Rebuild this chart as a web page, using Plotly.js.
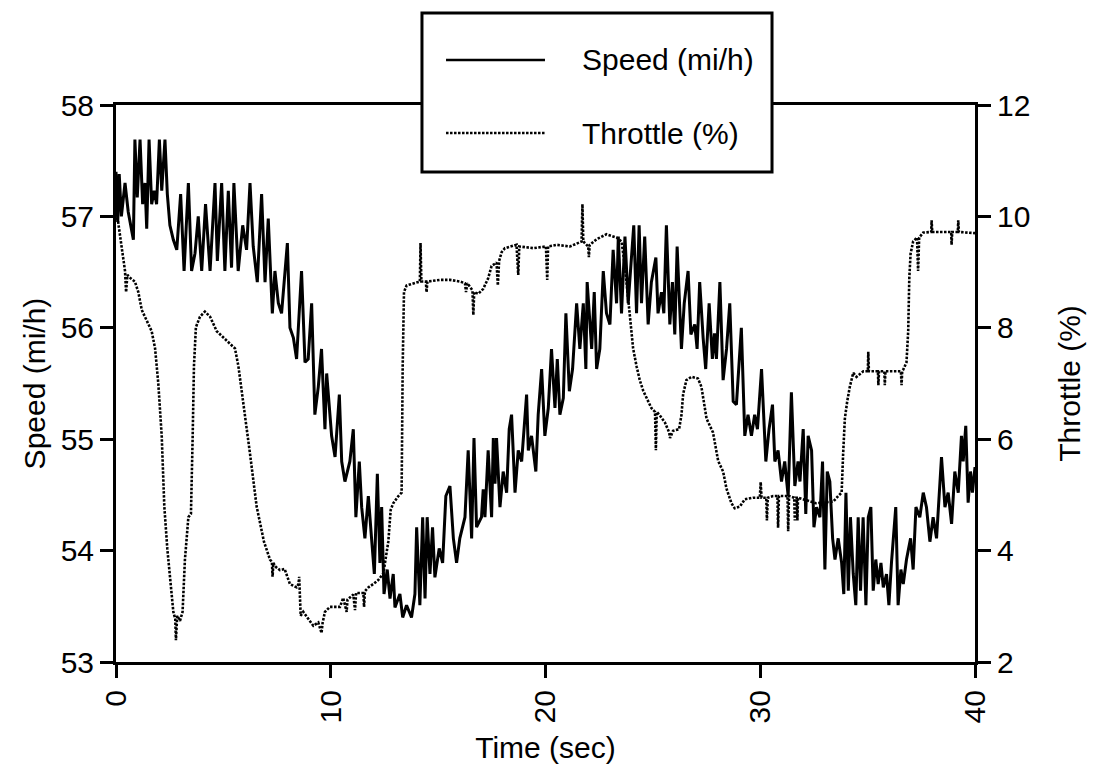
<!DOCTYPE html>
<html>
<head>
<meta charset="utf-8">
<script src="https://cdn.plot.ly/plotly-3.0.1.min.js"></script>
<style>html,body{margin:0;padding:0;background:#fff;}#chart{width:1095px;height:772px;}</style>
</head>
<body>
<div id="chart"></div>
<script>
// ---- data ----
var speedTime = [0.00,0.08,0.15,0.25,0.42,0.57,0.81,0.88,0.99,1.12,1.24,1.35,1.43,1.54,1.66,1.78,1.89,2.02,2.13,2.28,2.39,2.51,2.67,2.83,3.01,3.17,3.37,3.52,3.68,3.83,3.99,4.17,4.38,4.61,4.72,4.92,5.07,5.23,5.38,5.49,5.69,5.90,6.08,6.24,6.39,6.58,6.78,6.94,7.09,7.28,7.40,7.56,7.71,7.98,8.10,8.26,8.41,8.64,8.80,8.95,9.11,9.19,9.26,9.42,9.57,9.73,9.81,10.04,10.20,10.40,10.51,10.66,10.89,11.05,11.17,11.33,11.44,11.59,11.75,11.90,12.03,12.17,12.29,12.37,12.48,12.63,12.76,12.91,12.99,13.22,13.35,13.53,13.76,13.92,14.00,14.15,14.28,14.39,14.49,14.62,14.74,14.85,15.05,15.21,15.36,15.55,15.71,15.86,16.01,16.25,16.40,16.56,16.67,16.79,17.02,17.10,17.18,17.33,17.49,17.57,17.65,17.72,17.88,18.03,18.19,18.31,18.42,18.58,18.73,18.89,19.12,19.20,19.35,19.55,19.66,19.82,19.97,20.13,20.28,20.44,20.55,20.67,20.83,20.95,21.11,21.26,21.45,21.60,21.76,21.88,21.94,22.15,22.27,22.38,22.53,22.69,22.84,23.00,23.15,23.31,23.39,23.54,23.70,23.85,24.11,24.24,24.36,24.47,24.62,24.78,24.93,25.14,25.24,25.40,25.51,25.63,25.79,25.91,26.02,26.13,26.33,26.46,26.64,26.77,26.95,27.06,27.18,27.34,27.46,27.62,27.77,27.87,27.96,28.12,28.27,28.43,28.58,28.74,28.89,29.12,29.28,29.43,29.59,29.74,29.87,30.06,30.26,30.41,30.57,30.68,30.83,30.99,31.14,31.30,31.45,31.61,31.76,31.85,32.00,32.12,32.23,32.39,32.50,32.62,32.78,32.90,33.01,33.12,33.24,33.37,33.48,33.63,33.79,33.89,33.99,34.10,34.20,34.33,34.45,34.56,34.67,34.79,34.92,35.03,35.15,35.26,35.38,35.49,35.62,35.73,35.88,35.99,36.11,36.31,36.42,36.55,36.66,36.81,37.00,37.12,37.25,37.43,37.59,37.74,37.90,38.05,38.21,38.44,38.60,38.75,38.91,39.06,39.22,39.37,39.45,39.57,39.68,39.79,39.88,40.00];
var speedMph = [57.40,56.95,57.38,57.00,57.30,57.04,56.79,57.69,57.17,57.69,57.11,57.30,56.89,57.69,57.11,57.23,57.11,57.69,57.23,57.69,57.20,56.92,56.79,56.70,57.20,56.51,57.30,56.51,56.67,57.00,56.51,57.11,56.51,57.30,56.60,57.30,56.51,57.23,56.54,57.30,56.51,56.92,56.70,57.30,56.73,56.41,57.20,56.41,56.98,56.13,56.51,56.22,56.13,56.76,56.00,55.91,55.72,56.51,55.69,55.72,56.22,55.56,55.22,55.47,55.81,55.09,55.59,55.03,54.84,55.40,54.80,54.62,54.80,55.09,54.30,54.80,54.39,54.11,54.49,54.11,53.79,54.69,53.89,54.39,53.61,53.83,53.57,53.79,53.49,53.61,53.40,53.51,53.40,53.61,54.21,53.51,54.30,53.57,54.30,53.79,54.21,53.76,54.02,53.89,54.49,54.58,54.11,53.89,54.11,54.30,54.90,54.11,55.01,54.21,54.30,54.55,54.30,54.90,54.30,55.01,54.60,55.01,54.39,54.71,54.52,55.09,55.22,54.52,54.90,54.80,55.40,54.90,55.03,54.71,55.22,55.63,55.03,55.28,55.81,55.28,55.72,55.22,55.37,56.13,55.43,55.63,56.22,55.81,56.22,55.63,56.41,55.81,56.32,55.63,55.81,56.51,56.13,56.03,56.70,56.22,56.82,56.13,56.82,56.22,56.92,56.13,56.92,56.22,56.82,56.03,56.41,56.63,56.13,56.32,56.13,56.92,56.03,56.41,55.94,56.73,55.81,56.22,56.51,55.94,56.03,55.81,56.41,55.91,55.63,56.22,55.72,55.95,55.72,56.41,55.53,55.81,56.22,55.34,55.31,56.00,55.03,55.22,55.03,55.22,55.09,55.63,54.80,55.09,55.31,54.80,54.90,54.62,54.80,54.49,55.42,54.58,54.80,54.62,55.09,54.33,55.03,54.90,54.21,54.39,54.30,54.80,53.83,54.71,54.62,54.11,53.92,54.11,53.89,53.61,54.52,53.64,54.30,53.79,53.51,54.30,53.64,54.30,53.51,54.30,54.39,53.64,53.92,53.70,53.89,53.67,53.79,53.51,53.89,54.39,53.51,53.83,53.70,53.92,54.11,53.83,54.39,54.30,54.52,54.39,54.08,54.30,54.11,54.84,54.39,54.52,54.24,54.71,54.52,55.03,54.80,55.12,54.43,54.71,54.52,54.75];

var throttleTime = [0.00,0.10,0.19,0.34,0.42,0.47,0.53,0.68,0.88,1.04,1.20,1.43,1.66,1.82,1.97,2.13,2.25,2.39,2.51,2.67,2.76,2.79,2.85,2.98,3.10,3.21,3.37,3.49,3.57,3.63,3.72,3.91,4.14,4.38,4.69,5.00,5.38,5.54,5.70,5.93,6.24,6.55,6.89,7.17,7.26,7.29,7.33,7.40,7.63,7.85,8.10,8.41,8.50,8.53,8.60,8.72,8.95,9.19,9.42,9.57,9.62,9.73,9.96,10.43,10.58,10.74,10.78,11.05,11.13,11.18,11.52,11.55,11.59,11.75,11.98,12.21,12.45,12.68,12.79,12.91,13.15,13.30,13.35,13.41,13.53,13.84,14.15,14.18,14.22,14.43,14.46,14.50,15.08,15.55,16.02,16.25,16.30,16.36,16.60,16.64,16.68,16.87,17.10,17.33,17.49,17.72,17.78,17.84,17.96,18.11,18.65,18.73,18.78,19.43,20.02,20.08,20.12,20.52,21.14,21.68,21.72,21.76,21.99,22.02,22.06,22.38,22.84,23.31,23.54,23.70,23.85,23.93,24.08,24.24,24.39,24.55,24.78,24.93,25.10,25.14,25.18,25.32,25.56,25.76,25.80,25.94,26.22,26.33,26.41,26.56,26.80,27.10,27.26,27.50,27.80,28.04,28.27,28.43,28.66,28.81,29.05,29.28,29.67,29.98,30.02,30.06,30.28,30.31,30.35,30.60,30.80,30.83,30.87,31.27,31.30,31.34,31.58,31.61,31.64,31.70,31.73,31.76,32.60,33.40,33.63,33.79,33.86,33.94,34.05,34.17,34.33,34.48,34.80,35.01,35.03,35.06,35.48,35.50,35.53,35.78,35.80,35.83,36.55,36.58,36.61,36.66,36.81,36.89,36.94,37.00,37.12,37.30,37.35,37.40,37.59,37.96,37.98,38.01,38.89,38.91,38.94,39.20,39.22,39.25,40.00];
var throttlePct = [10.05,9.90,9.65,9.21,9.02,8.64,8.95,8.89,8.83,8.64,8.32,8.13,7.94,7.63,7.00,6.05,4.79,4.03,3.53,2.90,2.77,2.39,2.83,2.74,2.90,3.84,4.60,4.66,6.05,7.31,8.01,8.20,8.29,8.20,7.94,7.82,7.69,7.63,7.31,6.68,5.74,4.79,4.16,3.84,3.80,3.53,3.78,3.72,3.65,3.67,3.40,3.34,3.40,3.53,2.83,2.90,2.77,2.65,2.71,2.52,2.70,2.90,2.99,2.99,3.15,2.90,3.12,3.21,2.93,3.24,3.24,2.99,3.27,3.34,3.40,3.47,3.59,4.16,4.73,4.85,4.98,5.04,7.31,8.64,8.76,8.80,8.83,9.52,8.83,8.83,8.64,8.83,8.86,8.86,8.83,8.80,8.64,8.80,8.67,8.23,8.64,8.61,8.70,8.89,9.11,9.17,8.76,9.20,9.36,9.43,9.49,8.95,9.46,9.43,9.46,8.86,9.46,9.49,9.46,9.55,10.22,9.55,9.46,9.27,9.49,9.59,9.68,9.62,9.55,9.10,8.50,8.20,7.63,7.31,7.06,6.87,6.68,6.56,6.49,5.80,6.49,6.43,6.30,6.12,6.02,6.15,6.18,6.43,6.81,7.06,7.12,7.09,6.94,6.37,6.12,5.61,5.42,5.11,4.85,4.76,4.79,4.92,4.95,4.95,5.23,4.95,4.95,4.54,4.95,4.98,4.98,4.41,4.98,4.98,4.35,4.98,4.95,4.54,4.95,4.95,4.54,4.95,4.85,4.88,4.98,5.04,5.74,6.37,6.68,6.94,7.19,7.12,7.22,7.22,7.57,7.22,7.22,6.97,7.22,7.22,6.97,7.22,7.22,6.97,7.22,7.25,7.38,7.94,8.89,9.33,9.55,9.62,9.02,9.62,9.71,9.72,9.93,9.72,9.72,9.49,9.72,9.72,9.93,9.72,9.70];

var timeTicks = [0, 10, 20, 30, 40];
var speedTicks = [53, 54, 55, 56, 57, 58];
var throttleTicks = [2, 4, 6, 8, 10, 12];
var seriesNames = ['Speed (mi/h)', 'Throttle (%)'];

// ---- chart ----
var FONT = 'Liberation Sans, Arial, Helvetica, sans-serif';
var DOTS = '2.5px,1.5px';
var traces = [
  {x: speedTime, y: speedMph, type: 'scatter', mode: 'lines', name: seriesNames[0],
   line: {color: '#000', width: 3}, yaxis: 'y', showlegend: false, hoverinfo: 'skip'},
  {x: throttleTime, y: throttlePct, type: 'scatter', mode: 'lines', name: seriesNames[1],
   line: {color: '#000', width: 2.6, dash: DOTS}, yaxis: 'y2', showlegend: false, hoverinfo: 'skip'}
];

var axisCommon = {
  showline: true, linecolor: '#000', linewidth: 3,
  ticks: 'outside', ticklen: 13, tickwidth: 3, tickcolor: '#000',
  showgrid: false, zeroline: false,
  tickfont: {family: FONT, size: 30, color: '#000'}
};

// legend box geometry (paper fractions)
var lx0 = 0.3562, lx1 = 0.7637, ly0 = 0.8797, ly1 = 1.1652;
var row1 = 1.0808, row2 = 0.9497;
var sx0 = 0.3842, sx1 = 0.4994, tx = 0.5402;

var layout = {
  width: 1095, height: 772,
  margin: {l: 116, r: 120, t: 105, b: 110, pad: 0},
  paper_bgcolor: '#fff', plot_bgcolor: '#fff',
  showlegend: false,
  font: {family: FONT, color: '#000'},
  xaxis: Object.assign({}, axisCommon, {
    range: [0, 40], tickvals: timeTicks, ticktext: timeTicks.map(String),
    tickangle: -90, mirror: true,
    title: {text: 'Time (sec)', font: {family: FONT, size: 30, color: '#000'}, standoff: 15}
  }),
  yaxis: Object.assign({}, axisCommon, {
    range: [53, 58], tickvals: speedTicks, ticktext: speedTicks.map(String),
    title: {text: 'Speed (mi/h)', font: {family: FONT, size: 30, color: '#000'}, standoff: 7}
  }),
  yaxis2: Object.assign({}, axisCommon, {
    range: [2, 12], tickvals: throttleTicks, ticktext: throttleTicks.map(String),
    overlaying: 'y', side: 'right',
    title: {text: 'Throttle (%)', font: {family: FONT, size: 30, color: '#000'}, standoff: 30}
  }),
  shapes: [
    {type: 'rect', xref: 'paper', yref: 'paper', x0: lx0, x1: lx1, y0: ly0, y1: ly1,
     fillcolor: '#fff', line: {color: '#000', width: 3}, layer: 'above'},
    {type: 'line', xref: 'paper', yref: 'paper', x0: sx0, x1: sx1, y0: row1, y1: row1,
     line: {color: '#000', width: 2.4}, layer: 'above'},
    {type: 'line', xref: 'paper', yref: 'paper', x0: sx0, x1: sx1, y0: row2, y1: row2,
     line: {color: '#000', width: 2.6, dash: DOTS}, layer: 'above'}
  ],
  annotations: [
    {xref: 'paper', yref: 'paper', x: tx, y: row1, xanchor: 'left', yanchor: 'middle',
     text: seriesNames[0], showarrow: false, font: {family: FONT, size: 30, color: '#000'}},
    {xref: 'paper', yref: 'paper', x: tx, y: row2, xanchor: 'left', yanchor: 'middle',
     text: seriesNames[1], showarrow: false, font: {family: FONT, size: 30, color: '#000'}}
  ]
};

Plotly.newPlot('chart', traces, layout, {displayModeBar: false, staticPlot: true});
</script>
</body>
</html>
